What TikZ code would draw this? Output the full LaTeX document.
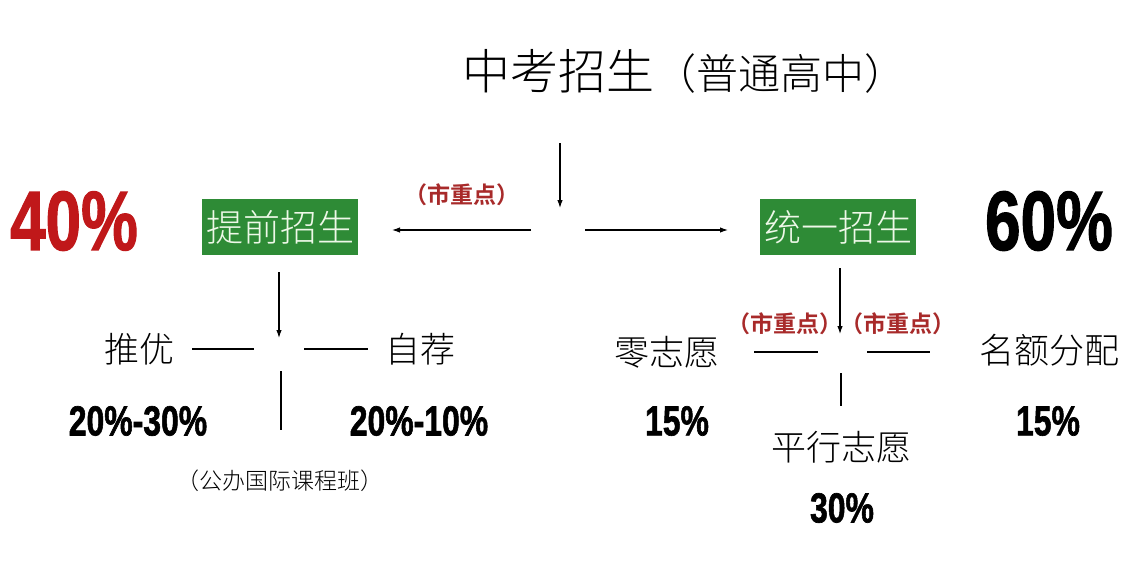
\documentclass[tikz,border=0pt]{standalone}
\usepackage{fontspec}
\newfontfamily\cjk{Noto Sans CJK SC Light}
\newfontfamily\cjkb{Noto Sans CJK SC Bold}
\newfontfamily\numf[FakeBold=1.6]{Liberation Sans Bold}
\usetikzlibrary{arrows.meta}
\definecolor{boxgreen}{HTML}{2E8B36}
\definecolor{boxtext}{HTML}{EEF8E8}
\definecolor{bigred}{HTML}{C0181A}
\definecolor{notered}{HTML}{A82A2A}
\newcommand\cond[1]{\scalebox{0.76}[1]{#1}}
\begin{document}
\begin{tikzpicture}[x=1pt,y=-1pt,
  cn/.style={font=\cjk\fontsize{35}{35}\selectfont, inner sep=0pt, anchor=center},
  title/.style={font=\cjk\fontsize{48}{48}\selectfont, inner sep=0pt},
  gbox/.style={fill=boxgreen, text=boxtext, font=\cjk\fontsize{37}{37}\selectfont,
    minimum width=156pt, minimum height=56pt, inner sep=0pt},
  note/.style={text=notered, font=\cjkb\fontsize{23}{23}\selectfont, inner sep=0pt},
  pct/.style={font=\numf\fontsize{42}{42}\selectfont, inner sep=0pt},
  big/.style={font=\numf\fontsize{84}{84}\selectfont, inner sep=0pt},
  small/.style={font=\cjk\fontsize{23}{23}\selectfont, inner sep=0pt},
  arr/.style={line width=1.1pt, -{Latex[length=8pt,width=5.5pt]}},
  ln/.style={line width=1.1pt}]
\useasboundingbox[fill=white] (0,0) rectangle (1148,578);

% title
\node[title, anchor=base west] (title) at (462,89)
  {中考招生{\fontsize{42}{42}\selectfont（普通高中）}};

% top arrows
\coordinate (t1) at (560,143);
\coordinate (t2) at (560,208);
\draw[arr] (t1) -- (t2);
\coordinate (l1) at (531,230);
\coordinate (l2) at (392,230);
\coordinate (r1) at (585,230);
\coordinate (r2) at (728,230);

\node[gbox] (tq) at (280,227) {提前招生};
\node[gbox] (ty) at (838,227) {统一招生};
\draw[arr] (l1) -- (l2);
\draw[arr] (r1) -- (r2);
\node[note] (n0) at (462,195) {（市重点）};

\node[big, text=bigred] (p40) at (74,221) {\cond{40\%}};
\node[big] (p60) at (1049,221) {\cond{60\%}};

% left branch
\coordinate (a1) at (279,272);
\coordinate (a2) at (279,338);
\draw[arr] (a1) -- (a2);
\coordinate (h1) at (192,349); \coordinate (h2) at (254,349);
\coordinate (h3) at (304,349); \coordinate (h4) at (368,349);
\coordinate (v1) at (281,371); \coordinate (v2) at (281,430);
\draw[ln] (h1) -- (h2);
\draw[ln] (h3) -- (h4);
\draw[ln] (v1) -- (v2);

\node[cn] (ty1) at (139,349) {推优};
\node[cn] (zj) at (420,349) {自荐};
\node[pct] (p1) at (138,421) {\cond{20\%-30\%}};
\node[pct] (p2) at (419,421) {\cond{20\%-10\%}};
\node[small] (gb) at (280,481) {（公办国际课程班）};

% right branch
\coordinate (b1) at (840,268);
\coordinate (b2) at (840,334);
\draw[arr] (b1) -- (b2);
\coordinate (k1) at (754,352); \coordinate (k2) at (818,352);
\coordinate (k3) at (867,352); \coordinate (k4) at (930,352);
\coordinate (w1) at (841,373); \coordinate (w2) at (841,406);
\draw[ln] (k1) -- (k2);
\draw[ln] (k3) -- (k4);
\draw[ln] (w1) -- (w2);
\node[note] (n1) at (785,324) {（市重点）};
\node[note] (n2) at (898,324) {（市重点）};

\node[cn] (lz) at (667,352) {零志愿};
\node[cn] (me) at (1049,350) {名额分配};
\node[cn] (px) at (841,447) {平行志愿};
\node[pct] (p3) at (677,421) {\cond{15\%}};
\node[pct] (p4) at (1048,421) {\cond{15\%}};
\node[pct] (p5) at (842,508) {\cond{30\%}};
\end{tikzpicture}
\end{document}
